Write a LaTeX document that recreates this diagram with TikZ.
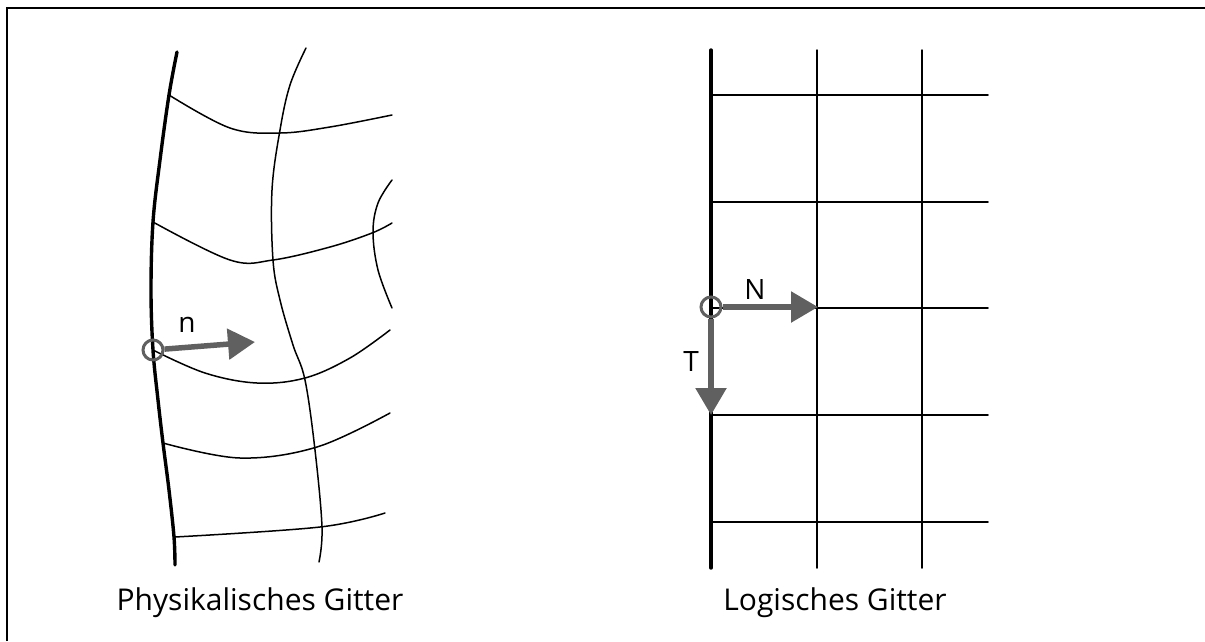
\documentclass[tikz,border=0pt]{standalone}
\usepackage{fontspec}
\setmainfont{Open Sans}
\usetikzlibrary{arrows.meta}
\definecolor{arrowgray}{RGB}{96,96,96}
\begin{document}
\begin{tikzpicture}[x=1pt,y=-1pt,
  gridline/.style={line width=1.5pt, line cap=round},
  bound/.style={line width=3.4pt, line cap=round},
  vec/.style={draw=arrowgray, fill=arrowgray, line width=5.5pt, -{Triangle[length=27pt,width=30pt]}},
  ring/.style={circle, draw=arrowgray, line width=3pt, minimum size=20pt, inner sep=0pt},
  caption/.style={font=\fontsize{30}{36}\selectfont, anchor=base},
  veclabel/.style={font=\fontsize{28}{32}\selectfont}]
\useasboundingbox (0,0) rectangle (1205,641);
% frame
\draw[line width=2pt] (7,641) -- (7,8) -- (1205,8);

% ---------- physical grid ----------
\draw[bound] plot[smooth, tension=0.6] coordinates {(177,52) (169,95) (160,160) (153,222) (151,290) (153,350) (158,400) (163,443) (169,490) (174,537) (175,565)};
\draw[gridline] plot[smooth, tension=0.6] coordinates {(306,48) (290,85) (280,130) (272,190) (273,260) (280,300) (293,345) (305,380) (315,450) (322,527) (319,562)};
\draw[gridline] plot[smooth, tension=0.6] coordinates {(169,95) (230,128) (280,133) (330,127) (392,115)};
\draw[gridline] plot[smooth, tension=0.6] coordinates {(153,222) (230,260) (273,260) (330,247) (372,233) (392,223)};
\draw[gridline] plot[smooth, tension=0.6] coordinates {(153,350) (205,373) (257,383) (305,378) (350,358) (390,330)};
\draw[gridline] plot[smooth, tension=0.6] coordinates {(163,443) (240,458) (317,447) (390,413)};
\draw[gridline] plot[smooth, tension=0.6] coordinates {(175,537) (320,527) (385,513)};
\draw[gridline] plot[smooth, tension=0.6] coordinates {(392,180) (378,203) (373,232) (378,270) (392,308)};

\node[ring] (c1) at (153,350) {};
\coordinate (ntip) at (255,342);
\draw[vec] (c1) -- (ntip);
\node[veclabel] (nlab) at (187,325) {n};
\node[caption] (cap1) at (260,610) {Physikalisches Gitter};

% ---------- logical grid ----------
\draw[bound] (711,50) -- (711,568);
\foreach \x in {817,922} \draw[gridline] (\x,50) -- (\x,568);
\foreach \y in {95,202,308,415,522} \draw[gridline] (711,\y) -- (988,\y);

\node[ring] (c2) at (711,307) {};
\coordinate (Ntip) at (818,307);
\coordinate (Ttip) at (711,415);
\draw[vec] (c2) -- (Ntip);
\draw[vec] (c2) -- (Ttip);
\node[veclabel] (Nlab) at (755,289) {N};
\node[veclabel] (Tlab) at (691,361) {T};
\node[caption] (cap2) at (835,610) {Logisches Gitter};
\end{tikzpicture}
\end{document}
